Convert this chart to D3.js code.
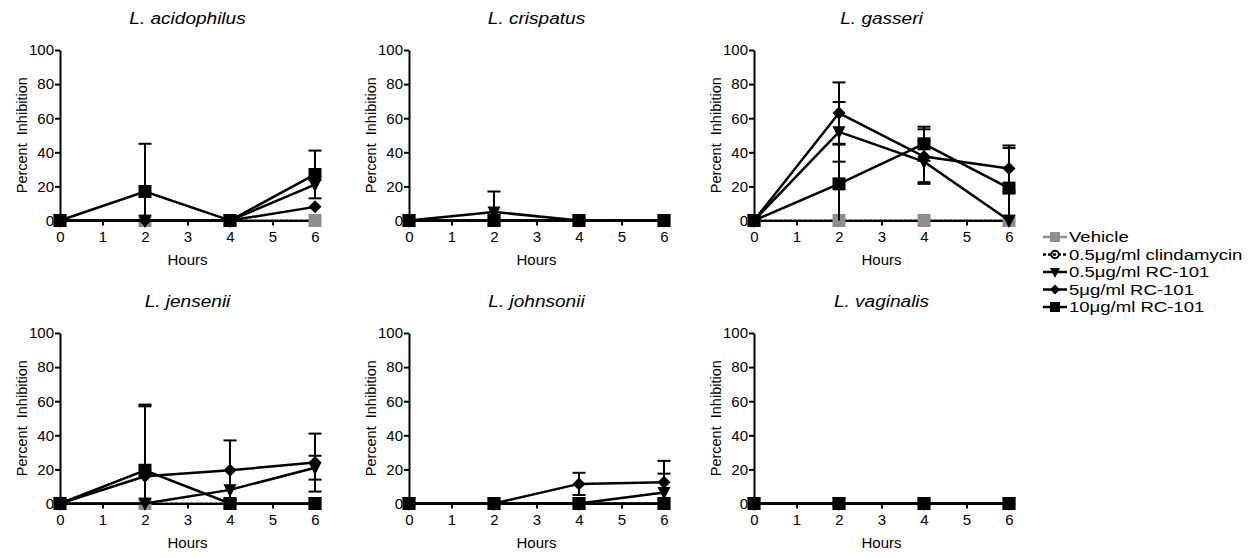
<!DOCTYPE html>
<meta charset="utf-8">
<style>
  body {
    margin: 0;
    background: #fff;
    font-family: "Liberation Sans", Arial, Helvetica, sans-serif;
  }
  .axis path, .axis line {
    stroke: #000;
    stroke-width: 2px;
  }
  .axis text {
    font-size: 15px;
    fill: #000;
  }
</style>
<body>
<script src="https://d3js.org/d3.v7.min.js"></script>
<script>

var width = 1253,
    height = 558;

var hours = [0, 2, 4, 6];
var species = ["L. acidophilus", "L. crispatus", "L. gasseri", "L. jensenii", "L. johnsonii", "L. vaginalis"];
var seriesNames = ["Vehicle", "0.5\u03bcg/ml clindamycin", "0.5\u03bcg/ml RC-101", "5\u03bcg/ml RC-101", "10\u03bcg/ml RC-101"];
var yTicks = [0, 20, 40, 60, 80, 100];
var xTicks = [0, 1, 2, 3, 4, 5, 6];

// mean and SD of percent inhibition, one row per species, columns 0, 2, 4, 6 h
var vehicleMean = [[0, 0, 0, 0], [0, 0, 0, 0], [0, 0, 0, 0], [0, 0, 0, 0], [0, 0, 0, 0], [0, 0, 0, 0]];
var vehicleSd   = [[0, 0, 0, 0], [0, 0, 0, 0], [0, 0, 0, 0], [0, 0, 0, 0], [0, 0, 0, 0], [0, 0, 0, 0]];
var clindaMean  = [[0, 0, 0, 0], [0, 0, 0, 0], [0, 0, 0, 0], [0, 0, 0, 0], [0, 0, 0, 0], [0, 0, 0, 0]];
var clindaSd    = [[0, 0, 0, 0], [0, 0, 0, 0], [0, 0, 0, 0], [0, 0, 0, 0], [0, 0, 0, 0], [0, 0, 0, 0]];
var rc05Mean    = [[0, 0, 0, 21], [0, 5, 0, 0], [0, 52, 34.5, 0], [0, 0, 8, 21], [0, 0, 0, 6.5], [0, 0, 0, 0]];
var rc05Sd      = [[0, 0, 0, 0], [0, 12, 0, 0], [0, 17.5, 12, 0], [0, 0, 0, 7], [0, 0, 0, 11], [0, 0, 0, 0]];
var rc5Mean     = [[0, 0, 0, 8], [0, 0, 0, 0], [0, 63, 37.5, 30.5], [0, 16, 19.5, 24], [0, 0, 11.5, 12.5], [0, 0, 0, 0]];
var rc5Sd       = [[0, 0, 0, 0], [0, 0, 0, 0], [0, 18, 16, 13.5], [0, 41, 17.5, 17], [0, 0, 6.5, 12.5], [0, 0, 0, 0]];
var rc10Mean    = [[0, 17, 0, 27], [0, 0, 0, 0], [0, 21.5, 45, 19], [0, 19.5, 0, 0], [0, 0, 0, 0], [0, 0, 0, 0]];
var rc10Sd      = [[0, 28, 0, 14], [0, 0, 0, 0], [0, 23, 10, 23.5], [0, 38.5, 0, 0], [0, 0, 0, 0], [0, 0, 0, 0]];

var means = [vehicleMean, clindaMean, rc05Mean, rc5Mean, rc10Mean],
    sds = [vehicleSd, clindaSd, rc05Sd, rc5Sd, rc10Sd],
    shapes = ["square", "circle", "triangle", "diamond", "square"],
    colors = ["#8e8e8e", "#000", "#000", "#000", "#000"];

// clindamycin goes underneath the vehicle, as in the original
var drawOrder = [1, 0, 2, 3, 4];

var panelLeft = [60, 409, 754],
    panelTop = [50, 333],
    pw = 255,
    ph = 170.5;

var x = d3.scaleLinear().domain([0, 6]).range([0, pw]);
var y = d3.scaleLinear().domain([0, 100]).range([ph, 0]).clamp(true);

var line = d3.line()
    .x(function(d, i) { return x(hours[i]); })
    .y(function(d) { return y(d); });

// marker path centred on 0,0
function marker(shape, s) {
  var h = s / 2;
  if (shape == "square") return "M" + -h + "," + -h + "H" + h + "V" + h + "H" + -h + "Z";
  if (shape == "diamond") return "M0," + -h + "L" + h + ",0L0," + h + "L" + -h + ",0Z";
  if (shape == "triangle") return "M" + -h + "," + (-h + 1) + "H" + h + "L0," + (h + 1) + "Z";
  return d3.arc()({ innerRadius: 0, outerRadius: h * 0.75, startAngle: 0, endAngle: 2 * Math.PI });
}

var svg = d3.select("body").append("svg")
    .attr("width", width)
    .attr("height", height);

species.forEach(function(name, p) {
  var g = svg.append("g")
      .attr("transform", "translate(" + panelLeft[p % 3] + "," + panelTop[Math.floor(p / 3)] + ")");

  g.append("text")
      .attr("transform", "translate(" + pw / 2 + ",-26)scale(1.19,1)")
      .attr("text-anchor", "middle")
      .style("font-size", "16px")
      .style("font-style", "italic")
      .text(name);

  // lines of the two control series sit under the axis
  [1, 0].forEach(function(s) {
    g.append("path")
        .attr("d", line(means[s][p]))
        .attr("fill", "none")
        .attr("stroke", colors[s])
        .attr("stroke-width", 2.5)
        .attr("stroke-dasharray", s == 1 ? "3,2" : null);
  });

  g.append("g")
      .attr("class", "axis")
      .call(d3.axisLeft(y).tickValues(yTicks).tickSize(5).tickPadding(1).tickSizeOuter(0));

  g.append("g")
      .attr("class", "axis")
      .attr("transform", "translate(0," + ph + ")")
      .call(d3.axisBottom(x).tickValues(xTicks).tickFormat(d3.format("d")).tickSize(5).tickPadding(6).tickSizeOuter(0));

  g.append("text")
      .attr("x", pw / 2)
      .attr("y", ph + 44)
      .attr("text-anchor", "middle")
      .style("font-size", "15px")
      .text("Hours");

  g.append("text")
      .attr("transform", "translate(-33," + ph / 2 + ")rotate(-90)")
      .attr("text-anchor", "middle")
      .style("font-size", "14.5px")
      .style("white-space", "pre")
      .text("Percent  Inhibition");

  drawOrder.forEach(function(s) {
    var vals = means[s][p], sd = sds[s][p];
    var sg = g.append("g");

    if (s > 1) {
      sg.append("path")
          .attr("d", line(vals))
          .attr("fill", "none")
          .attr("stroke", colors[s])
          .attr("stroke-width", 2.5);
    }

    vals.forEach(function(v, i) {
      if (!sd[i]) return;
      var cx = x(hours[i]);
      sg.append("line")
          .attr("x1", cx).attr("x2", cx)
          .attr("y1", y(v + sd[i])).attr("y2", y(v - sd[i]))
          .attr("stroke", colors[s]).attr("stroke-width", 2);
      sg.append("line")
          .attr("x1", cx - 6.5).attr("x2", cx + 6.5)
          .attr("y1", y(v + sd[i])).attr("y2", y(v + sd[i]))
          .attr("stroke", colors[s]).attr("stroke-width", 2);
      if (v - sd[i] > 0) {
        sg.append("line")
            .attr("x1", cx - 6.5).attr("x2", cx + 6.5)
            .attr("y1", y(v - sd[i])).attr("y2", y(v - sd[i]))
            .attr("stroke", colors[s]).attr("stroke-width", 2);
      }
    });

    sg.selectAll(".pt")
        .data(vals)
      .enter().append("path")
        .attr("class", "pt")
        .attr("transform", function(d, i) { return "translate(" + x(hours[i]) + "," + y(d) + ")"; })
        .attr("d", marker(shapes[s], s == 1 ? 10 : 13))
        .attr("fill", s == 1 ? "#fff" : colors[s])
        .attr("stroke", s == 1 ? "#000" : "none")
        .attr("stroke-width", 1.5);
  });
});

// legend
var legend = svg.append("g")
    .attr("transform", "translate(1043,237)");

seriesNames.forEach(function(name, s) {
  var row = legend.append("g")
      .attr("transform", "translate(0," + s * 17.5 + ")");
  row.append("line")
      .attr("x1", 0).attr("x2", 24)
      .attr("stroke", colors[s])
      .attr("stroke-width", 2.5)
      .attr("stroke-dasharray", s == 1 ? "3,2" : null);
  row.append("path")
      .attr("transform", "translate(12,0)")
      .attr("d", marker(shapes[s], 10))
      .attr("fill", s == 1 ? "none" : colors[s])
      .attr("stroke", s == 1 ? "#000" : "none")
      .attr("stroke-width", 2);
  row.append("text")
      .attr("transform", "translate(26,0)scale(1.22,1)")
      .attr("dy", "0.36em")
      .style("font-size", "15.2px")
      .text(name);
});

</script>
</body>
</html>
